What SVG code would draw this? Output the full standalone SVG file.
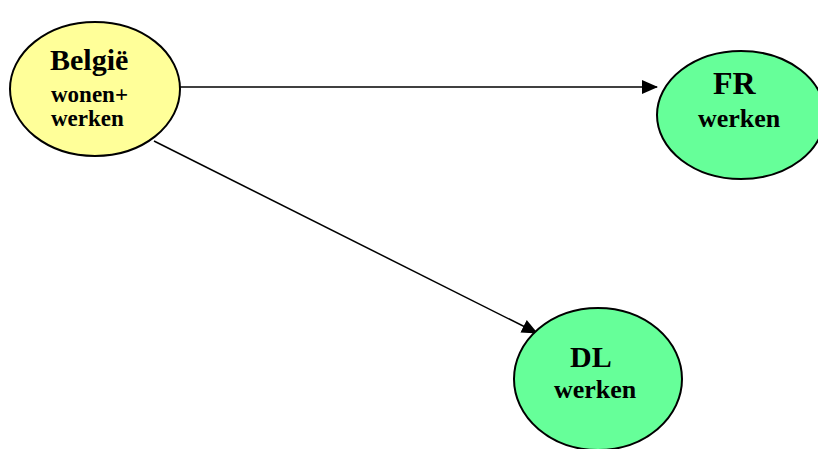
<svg xmlns="http://www.w3.org/2000/svg" width="818" height="449" viewBox="0 0 818 449">
<style>
.node{stroke:#000;stroke-width:2}
.yel{fill:#FFFF99}
.grn{fill:#66FF99}
text{font-family:"Liberation Serif","Times New Roman",serif;font-weight:bold;fill:#000}
.edge{stroke:#000;stroke-width:1.5;fill:none;marker-end:url(#ah)}
</style>
<defs>
<marker id="ah" markerWidth="16" markerHeight="14" refX="15" refY="7" orient="auto" markerUnits="userSpaceOnUse">
<path d="M0,0 L16,7 L0,14 Z" fill="#000"/>
</marker>
</defs>
<g id="connectors">
<line class="edge" x1="180" y1="87" x2="657" y2="87"/>
<line class="edge" x1="154" y1="141" x2="537" y2="333"/>
</g>
<g id="belgie">
<ellipse class="node yel" cx="95" cy="89" rx="85" ry="67"/>
<text x="50" y="70" font-size="30">België</text>
<text x="51" y="102" font-size="23">wonen+</text>
<text x="51" y="126" font-size="23">werken</text>
</g>
<g id="fr">
<ellipse class="node grn" cx="741" cy="115" rx="84" ry="64"/>
<text x="713" y="94" font-size="32">FR</text>
<text x="698" y="127" font-size="26">werken</text>
</g>
<g id="dl">
<ellipse class="node grn" cx="598" cy="379" rx="84" ry="71"/>
<text x="570" y="367" font-size="30">DL</text>
<text x="554" y="398" font-size="26">werken</text>
</g>
</svg>
